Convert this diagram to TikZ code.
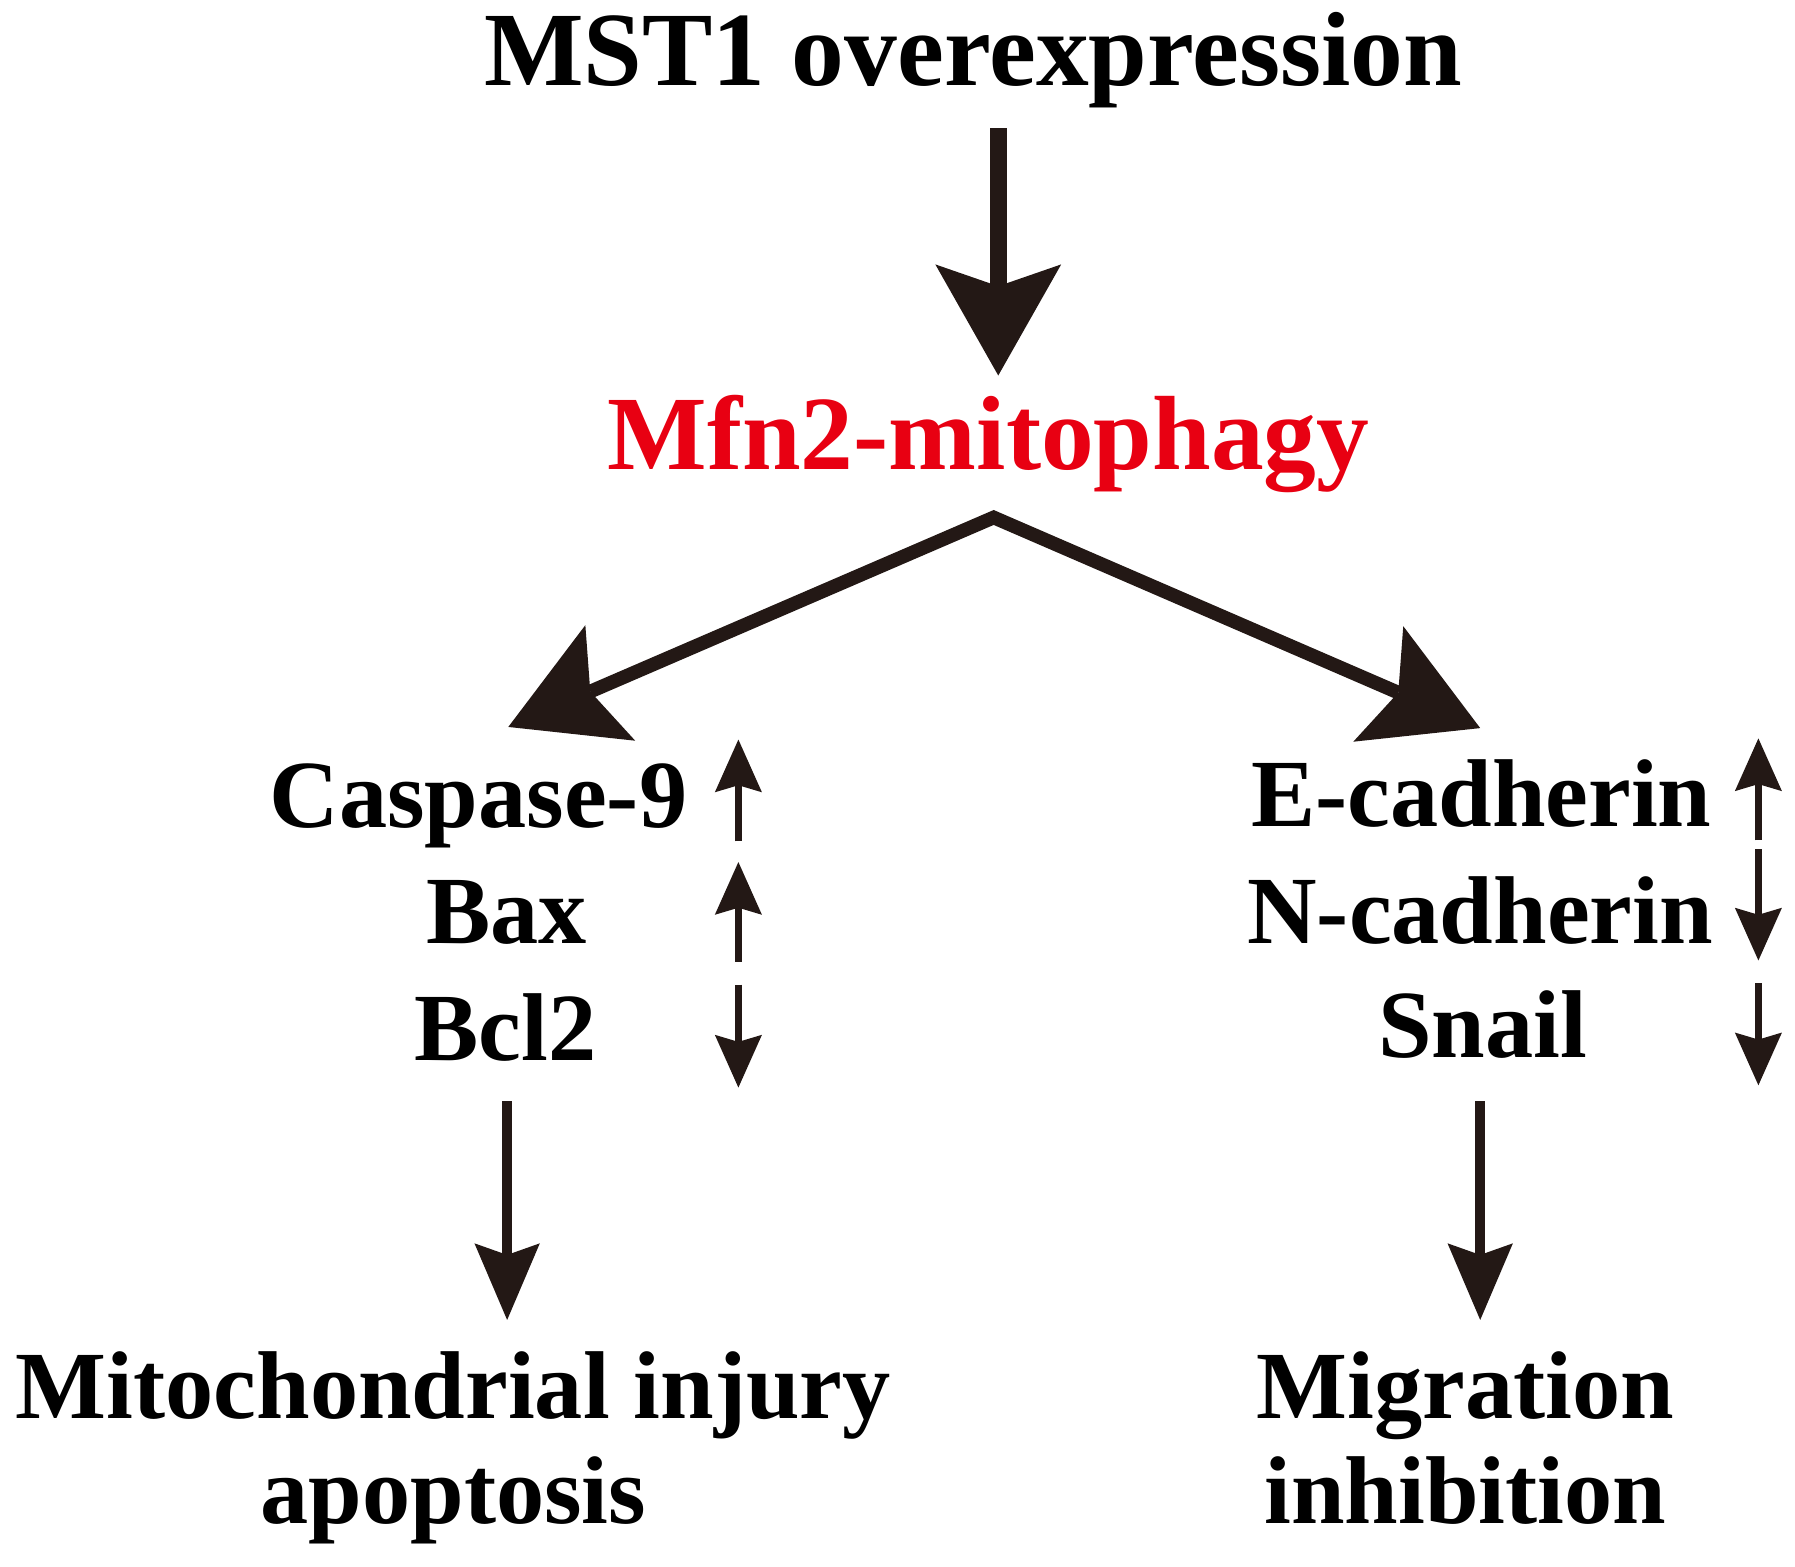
\documentclass[tikz,border=0pt]{standalone}
\usepackage{fontspec}
\setmainfont{Liberation Serif}
\usetikzlibrary{arrows.meta}

\definecolor{arrowbrown}{RGB}{35,24,21}
\definecolor{mitored}{RGB}{232,0,18}

\begin{document}
\begin{tikzpicture}[
    x=0.011448cm, y=-0.011448cm,
    every node/.style={inner sep=0pt, anchor=base, font=\bfseries\fontsize{27.4}{30}\selectfont},
    headline/.style={font=\bfseries\fontsize{30}{34}\selectfont},
    big/.style={line width=4.9pt, color=arrowbrown, >={Stealth[length=31.6pt, width=35.8pt, inset=6.2pt, line width=0pt]}},
    fork/.style={big, line width=3.9pt},
    long/.style={line width=2.8pt, color=arrowbrown, ->, >={Stealth[length=21.8pt, width=18.6pt, inset=3.3pt, line width=0pt]}},
    small/.style={line width=1.9pt, color=arrowbrown, ->, >={Stealth[length=15pt, width=13.4pt, inset=2pt, line width=0pt]}},
]
    \useasboundingbox (0,0) rectangle (1568,1368);

    \node[headline] (mst) at (850,75) {MST1 overexpression};
    \node[headline, text=mitored] (mfn) at (863.5,410) {Mfn2-mitophagy};

    % left column
    \node (casp) at (418,723) {Caspase-9};
    \node (bax) at (442.5,824) {Bax};
    \node (bcl) at (441.5,926) {Bcl2};
    \node[align=center] (injury) at (396,1331) {Mitochondrial injury\\apoptosis};

    % right column
    \node (ecad) at (1294,722) {E-cadherin};
    \node (ncad) at (1293,824) {N-cadherin};
    \node (snail) at (1295,924) {Snail};
    \node[align=center] (migr) at (1280,1331) {Migration\\inhibition};

    \coordinate (mst-out) at (872,112);
    \coordinate (mfn-in) at (872,328);
    \coordinate (fork) at (868,452);
    \coordinate (casp-in) at (444,635);
    \coordinate (ecad-in) at (1293,636);
    \coordinate (bcl-out) at (443,962);
    \coordinate (injury-in) at (443,1153);
    \coordinate (snail-out) at (1293,962);
    \coordinate (migr-in) at (1293,1153);

    \draw[big, ->] (mst-out) -- (mfn-in);
    \draw[fork, <->] (casp-in) -- (fork) -- (ecad-in);
    \draw[long] (bcl-out) -- (injury-in);
    \draw[long] (snail-out) -- (migr-in);

    % up / down marks
    \foreach \x/\ya/\yb in {645/735/646, 645/840/753, 645/860/950,
                            1536/734/645, 1536/742/839, 1536/859/948}
        \draw[small] (\x,\ya) -- (\x,\yb);
\end{tikzpicture}
\end{document}
